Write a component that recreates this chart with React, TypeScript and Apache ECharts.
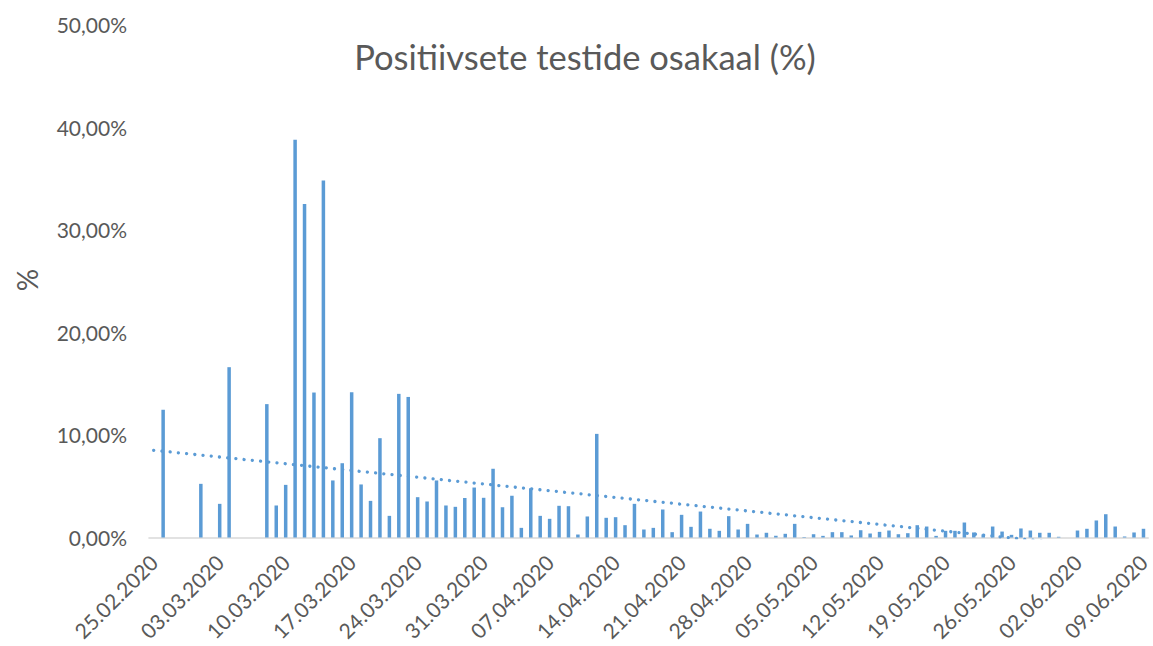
import React, { useEffect, useRef } from "react";
import * as echarts from "echarts";

// Daily categories: 25.02.2020 ... 09.06.2020 (106 days)
const START_YEAR = 2020;
const START_MONTH = 1; // February (0-based)
const START_DAY = 25;
const DAY_COUNT = 106;

const dates: string[] = Array.from({ length: DAY_COUNT }, (_, i) => {
  const d = new Date(Date.UTC(START_YEAR, START_MONTH, START_DAY + i));
  const dd = String(d.getUTCDate()).padStart(2, "0");
  const mm = String(d.getUTCMonth() + 1).padStart(2, "0");
  return `${dd}.${mm}.${d.getUTCFullYear()}`;
});

// Share of positive tests, %
const febMar1: number[] = [0, 12.45, 0, 0, 0, 5.23, 0, 3.28, 16.6, 0, 0, 0, 13.0, 3.12, 5.13, 38.76, 32.5, 14.13, 34.8, 5.56, 7.24];
const mar2: number[] = [14.16, 5.17, 3.57, 9.68, 2.11, 14.0, 13.7, 3.93, 3.51, 5.56, 3.12, 2.99, 3.85, 4.87, 3.87];
const apr: number[] = [6.7, 2.95, 4.06, 0.94, 4.8, 2.11, 1.82, 3.09, 3.05, 0.29, 2.05, 10.1, 1.92, 1.98, 1.2, 3.28, 0.78, 0.94, 2.73, 0.52, 2.21, 1.04, 2.53, 0.85, 0.65, 2.08, 0.78, 1.33, 0.29, 0.46];
const may: number[] = [0.17, 0.36, 1.33, 0.05, 0.32, 0.16, 0.52, 0.52, 0.2, 0.71, 0.39, 0.55, 0.68, 0.32, 0.42, 1.2, 1.07, 0.16, 0.65, 0.65, 1.46, 0.49, 0.3, 1.07, 0.58, 0.26, 0.88, 0.68, 0.46, 0.46, 0.07];
const jun: number[] = [0, 0.68, 0.85, 1.66, 2.27, 1.07, 0.1, 0.49, 0.85];

const positiveShare: number[] = [...febMar1, ...mar2, ...apr, ...may, ...jun];

const yTicks = { min: 0, max: 50, interval: 10 };

const TITLE = "Positiivsete testide osakaal (%)";
const Y_NAME = "%";

// Linear trend (least squares) over the daily values
function linearTrend(values: number[]): number[] {
  const n = values.length;
  let sx = 0, sy = 0, sxx = 0, sxy = 0;
  values.forEach((y, x) => {
    sx += x; sy += y; sxx += x * x; sxy += x * y;
  });
  const b = (n * sxy - sx * sy) / (n * sxx - sx * sx);
  const a = (sy - b * sx) / n;
  return values.map((_, x) => a + b * x);
}

const BLUE = "#5B9BD5";
const TEXT = "#595959";
const FONT = "Lato, 'Open Sans', sans-serif";

export default function App() {
  const ref = useRef<HTMLDivElement>(null);

  useEffect(() => {
    document.body.style.margin = "0";
    if (!ref.current) return;
    const chart = echarts.init(ref.current, undefined, { renderer: "svg" });
    const trend = linearTrend(positiveShare);
    chart.setOption({
      animation: false,
      title: {
        text: TITLE,
        left: 580,
        top: 34,
        textAlign: "center",
        textStyle: { fontFamily: FONT, fontSize: 34.5, fontWeight: "normal", color: TEXT },
      },
      graphic: [
        {
          type: "text",
          x: 27,
          y: 280,
          rotation: Math.PI / 2,
          style: {
            text: Y_NAME,
            fontFamily: FONT,
            fontSize: 28,
            fill: TEXT,
            align: "center",
            verticalAlign: "middle",
          },
        },
      ],
      grid: { left: 149, right: 0, top: 24.5, bottom: 108.5, containLabel: false },
      xAxis: {
        type: "category",
        data: dates,
        boundaryGap: true,
        axisTick: { show: false },
        axisLine: { show: true, lineStyle: { color: "#D9D9D9", width: 1.6 } },
        axisLabel: {
          interval: 6,
          rotate: 45,
          margin: 21,
          padding: [28, 0, 0, 0],
          fontFamily: FONT,
          fontSize: 21,
          color: TEXT,
          hideOverlap: false,
        },
        splitLine: { show: false },
      },
      yAxis: {
        type: "value",
        min: yTicks.min,
        max: yTicks.max,
        interval: yTicks.interval,
        axisLine: { show: false },
        axisTick: { show: false },
        splitLine: { show: false },
        axisLabel: {
          margin: 22,
          fontFamily: FONT,
          fontSize: 21,
          color: TEXT,
          formatter: (v: number) => v.toFixed(2).replace(".", ",") + "%",
        },
      },
      series: [
        {
          type: "bar",
          data: positiveShare,
          barWidth: 3.5,
          itemStyle: { color: BLUE },
        },
        {
          type: "line",
          data: trend,
          symbol: "none",
          smooth: false,
          clip: true,
          lineStyle: { color: BLUE, width: 3.3, type: [0.01, 8.25], cap: "round" },
          z: 3,
        },
      ],
    });
    return () => chart.dispose();
  }, []);

  return <div ref={ref} style={{ width: 1153, height: 646 }} />;
}
